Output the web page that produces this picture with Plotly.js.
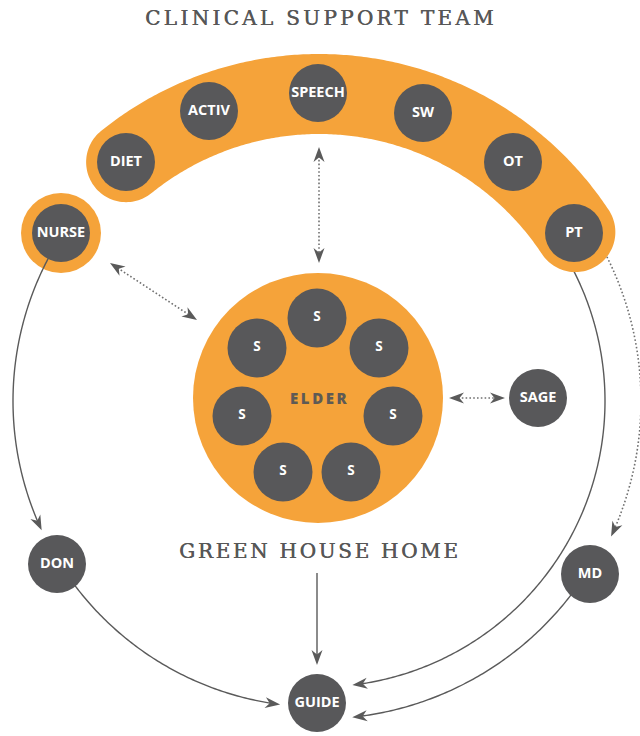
<!DOCTYPE html>
<html><head><meta charset="utf-8">
<script src="https://cdn.plot.ly/plotly-3.0.1.min.js"></script>
<style>html,body{margin:0;padding:0;background:#fff}</style>
</head><body><div id="chart" style="width:640px;height:736px"></div>
<script>
// ---- data ----
const teamLabels = ['DIET','ACTIV','SPEECH','SW','OT','PT'];
const teamX = [126,209,318,423,513,574];
const teamY = [162,111,93,113,162,233];
const outerLabels = ['NURSE','SAGE','DON','MD','GUIDE'];
const outerX = [61,538,57,590,317];
const outerY = [233,398,564,574,703];
const staffLabels = ['S','S','S','S','S','S','S'];
const staffX = [317,257,379,242,393,283,351];
const staffY = [318,348,348,416,416,472,472];
const elderLabel = 'ELDER';
const elderX = 318, elderY = 398;
const titleTop = 'CLINICAL SUPPORT TEAM';
const titleHome = 'GREEN HOUSE HOME';
// curved flows around the common ring centre: radius, start angle, end angle (deg)
const arcRadius = [306,306,286,318,322];
const arcStart = [213.1,148.1,-28.1,32.6,-26.6];
const arcEnd = [155,97.3,83.3,84,24.9];
const arcDotted = [false,false,false,false,true];
// straight connectors: x0,y0,x1,y1, both ends?, dotted?
const linkX0 = [319,110,449,317];
const linkY0 = [147,263,398,573];
const linkX1 = [319,197,505,317];
const linkY1 = [263,320,398,665];
const linkBoth = [true,true,true,false];
const linkDotted = [true,true,true,false];

// ---- styling / geometry ----
const ORANGE = '#F5A33A', DARK = '#58585A', LINE = '#5a5a5a', DOT = '#707070';
const CX = 319, CY = 401, BAND_R = 307, BAND_HW = 40;
const rad = d => d*Math.PI/180;
const shapesBelow = [], shapesMid = [], shapesTop = [];

function pt(r, aDeg){ return [CX + r*Math.cos(rad(aDeg)), CY + r*Math.sin(rad(aDeg))]; }
function arcPath(r, a0, a1){
  const n = Math.max(4, Math.ceil(Math.abs(a1-a0)*2));
  let s = '';
  for(let i=0;i<=n;i++){ const p = pt(r, a0+(a1-a0)*i/n); s += (i?' L ':'M ')+p[0].toFixed(2)+' '+p[1].toFixed(2); }
  return s;
}
function headPath(tx, ty, dx, dy, L, W, notch){
  const px = -dy, py = dx;
  const bx = tx - dx*L, by = ty - dy*L;
  const nx = tx - dx*(L-notch), ny = ty - dy*(L-notch);
  return `M ${tx} ${ty} L ${bx+px*W} ${by+py*W} L ${nx} ${ny} L ${bx-px*W} ${by-py*W} Z`;
}
function head(tx, ty, dx, dy){
  shapesTop.push({type:'path', path: headPath(tx,ty,dx,dy,15,5.5,4.5), fillcolor:LINE, line:{width:0}, layer:'above', xref:'x', yref:'y'});
}

// orange band
(function(){
  const a0 = Math.atan2(teamY[0]-CY, teamX[0]-CX)*180/Math.PI;
  const a1 = Math.atan2(teamY[5]-CY, teamX[5]-CX)*180/Math.PI;
  const pts = [];
  const n = 200;
  for(let i=0;i<=n;i++) pts.push(pt(BAND_R+BAND_HW, a0+(a1-a0)*i/n));
  const e = pt(BAND_R, a1);
  for(let i=1;i<60;i++){ const f = rad(a1 + 180*i/60); pts.push([e[0]+BAND_HW*Math.cos(f), e[1]+BAND_HW*Math.sin(f)]); }
  for(let i=0;i<=n;i++) pts.push(pt(BAND_R-BAND_HW, a1+(a0-a1)*i/n));
  const s = pt(BAND_R, a0);
  for(let i=1;i<60;i++){ const f = rad(a0 + 180 + 180*i/60); pts.push([s[0]+BAND_HW*Math.cos(f), s[1]+BAND_HW*Math.sin(f)]); }
  const path = pts.map((p,i)=>(i?'L ':'M ')+p[0].toFixed(2)+' '+p[1].toFixed(2)).join(' ')+' Z';
  shapesMid.push({type:'path', path, fillcolor:ORANGE, line:{width:0}, layer:'below', xref:'x', yref:'y'});
})();
// nurse ring
shapesMid.push({type:'circle', x0:outerX[0]-40, x1:outerX[0]+40, y0:outerY[0]-40, y1:outerY[0]+40, fillcolor:ORANGE, line:{width:0}, layer:'below', xref:'x', yref:'y'});
// elder circle
shapesMid.push({type:'circle', x0:elderX-125, x1:elderX+125, y0:elderY-125, y1:elderY+125, fillcolor:ORANGE, line:{width:0}, layer:'below', xref:'x', yref:'y'});

// arcs
for(let i=0;i<arcRadius.length;i++){
  const r = arcRadius[i], a0 = arcStart[i], a1 = arcEnd[i];
  const sgn = a1 > a0 ? 1 : -1;
  const trim = (9/r)*180/Math.PI*sgn;
  const sh = {type:'path', path: arcPath(r, a0, a1-trim), line:{color: arcDotted[i]?DOT:LINE, width: arcDotted[i]?1.6:1.4, dash: arcDotted[i]?'1.6px,2.2px':'solid'}, layer:'below', xref:'x', yref:'y'};
  if(i===2 || i===4) shapesBelow.push(sh); else shapesTop.push(sh);
  const t = pt(r, a1);
  const dx = -Math.sin(rad(a1))*sgn, dy = Math.cos(rad(a1))*sgn;
  head(t[0], t[1], dx, dy);
}
// straight links
for(let i=0;i<linkX0.length;i++){
  const x0=linkX0[i], y0=linkY0[i], x1=linkX1[i], y1=linkY1[i];
  const len = Math.hypot(x1-x0, y1-y0), dx=(x1-x0)/len, dy=(y1-y0)/len;
  const sx = linkBoth[i] ? x0+dx*9 : x0, sy = linkBoth[i] ? y0+dy*9 : y0;
  shapesTop.push({type:'line', x0:sx, y0:sy, x1:x1-dx*9, y1:y1-dy*9, line:{color: linkDotted[i]?DOT:LINE, width: linkDotted[i]?1.6:1.4, dash: linkDotted[i]?'1.6px,2.2px':'solid'}, layer:'below', xref:'x', yref:'y'});
  head(x1, y1, dx, dy);
  if(linkBoth[i]) head(x0, y0, -dx, -dy);
}

const shapes = shapesBelow.concat(shapesMid, shapesTop);

const nodeFont = {family:'Open Sans', size:14.5, color:'#ffffff', weight:700};
const traces = [
  {type:'scatter', mode:'markers+text', x:teamX, y:teamY, text:teamLabels, textposition:'middle center',
   marker:{size:58, color:DARK, line:{width:0}}, textfont:nodeFont, hoverinfo:'none'},
  {type:'scatter', mode:'markers+text', x:outerX, y:outerY, text:outerLabels, textposition:'middle center',
   marker:{size:58, color:DARK, line:{width:0}}, textfont:nodeFont, hoverinfo:'none'},
  {type:'scatter', mode:'markers+text', x:staffX, y:staffY, text:staffLabels, textposition:'middle center',
   marker:{size:59, color:DARK, line:{width:0}}, textfont:Object.assign({}, nodeFont, {size:13.5}), hoverinfo:'none'}
];

const serif = {family:'DejaVu Serif', size:20, color:'#575757', shadow:'0.5px 0 0 #575757'};
const annotations = [
  {x:321, y:18, xref:'x', yref:'y', text:'<span style="letter-spacing:3.3px">'+titleTop+'</span>', showarrow:false, font:serif, xanchor:'center', yanchor:'middle'},
  {x:320, y:551, xref:'x', yref:'y', text:'<span style="letter-spacing:2.7px">'+titleHome+'</span>', showarrow:false, font:serif, xanchor:'center', yanchor:'middle'},
  {x:elderX+1, y:elderY, xref:'x', yref:'y', text:'<span style="letter-spacing:2.6px">'+elderLabel+'</span>', showarrow:false, font:{family:'Open Sans', size:15, color:'#5e5a55', weight:800}, xanchor:'center', yanchor:'middle'}
];

const layout = {
  width:640, height:736, margin:{l:0,r:0,t:0,b:0}, paper_bgcolor:'#ffffff', plot_bgcolor:'#ffffff', showlegend:false,
  xaxis:{range:[0,640], visible:false, fixedrange:true},
  yaxis:{range:[736,0], visible:false, fixedrange:true},
  shapes, annotations
};
Plotly.newPlot('chart', traces, layout, {staticPlot:true, displayModeBar:false});
</script></body></html>
